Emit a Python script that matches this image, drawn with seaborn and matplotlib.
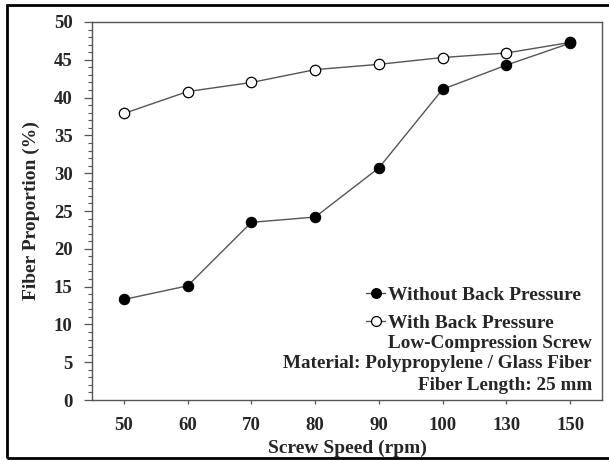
import matplotlib
matplotlib.use("Agg")
import matplotlib.pyplot as plt
import seaborn as sns
import pandas as pd
from matplotlib.patches import Rectangle
from matplotlib.ticker import MultipleLocator

speeds = ["50", "60", "70", "80", "90", "100", "130", "150"]
without_bp = [13.3, 15.1, 23.5, 24.2, 30.7, 41.1, 44.3, 47.2]
with_bp = [37.9, 40.8, 42.0, 43.7, 44.4, 45.3, 45.9, 47.3]
y_ticks = [0, 5, 10, 15, 20, 25, 30, 35, 40, 45, 50]
info_lines = ["Low-Compression Screw", "Material: Polypropylene / Glass Fiber", "Fiber Length: 25 mm"]

sns.set_style("ticks")
plt.rcParams['font.family'] = ['Liberation Serif', 'DejaVu Serif']
plt.rcParams['font.weight'] = 'bold'

df = pd.DataFrame({"speed": speeds * 2,
                   "value": without_bp + with_bp,
                   "series": ["Without Back Pressure"] * 8 + ["With Back Pressure"] * 8})
df["pos"] = list(range(8)) * 2

fig = plt.figure(figsize=(6.09, 4.61), dpi=100)
ax = fig.add_axes([92/609, 1-400/461, (602-92)/609, (400-22)/461])

line_col = "#555555"
sns.lineplot(data=df[df.series == "With Back Pressure"], x="pos", y="value", ax=ax,
             color=line_col, lw=1.0, marker="o", markersize=7.5, markerfacecolor="white",
             markeredgecolor="black", markeredgewidth=0.9, label="With Back Pressure", zorder=3)
sns.lineplot(data=df[df.series == "Without Back Pressure"], x="pos", y="value", ax=ax,
             color=line_col, lw=1.0, marker="o", markersize=7.5, markerfacecolor="black",
             markeredgecolor="black", label="Without Back Pressure", zorder=4)

ax.set_xlim(-0.5, 7.5)
ax.set_ylim(0, 50)
ax.set_xticks(range(8))
ax.set_xticklabels(speeds)
ax.set_yticks(y_ticks)
ax.yaxis.set_minor_locator(MultipleLocator(1))
ax.tick_params(axis='y', which='major', labelsize=13.5, length=6, width=0.9, color=line_col, pad=8)
ax.tick_params(axis='x', which='major', labelsize=13.5, length=3, width=0.9, color=line_col, pad=9)
ax.tick_params(axis='y', which='minor', length=3, width=0.8, color=line_col)
for lab in ax.get_xticklabels() + ax.get_yticklabels():
    lab.set_fontweight('bold')
for s in ax.spines.values():
    s.set_color(line_col)
    s.set_linewidth(1.0)

ax.set_xlabel("Screw Speed (rpm)", fontsize=14, fontweight='bold', labelpad=4)
ax.set_ylabel("Fiber Proportion (%)", fontsize=14, fontweight='bold', labelpad=10)

h, l = ax.get_legend_handles_labels()
order = [l.index("Without Back Pressure"), l.index("With Back Pressure")]
leg = ax.legend([h[i] for i in order], [l[i] for i in order], loc='upper left',
                bbox_to_anchor=((366-92)/510, (400-286)/378), frameon=False,
                prop={'family': 'Liberation Serif', 'weight': 'bold', 'size': 14},
                handlelength=1.0, handletextpad=0.15, labelspacing=0.55, borderpad=0, borderaxespad=0,
                markerscale=0.95)

ys = [343, 364, 385]
for t, yy in zip(info_lines, ys):
    ax.text(592/609, 1 - yy/461, t, transform=fig.transFigure, ha='right', va='center',
            fontsize=13.8, fontweight='bold')

fig.patches.append(Rectangle((7/609, 3/461), 1.0, 1 - 8/461, transform=fig.transFigure,
                             fill=False, edgecolor='black', lw=2.0))

fig.savefig("out.png", dpi=100)
